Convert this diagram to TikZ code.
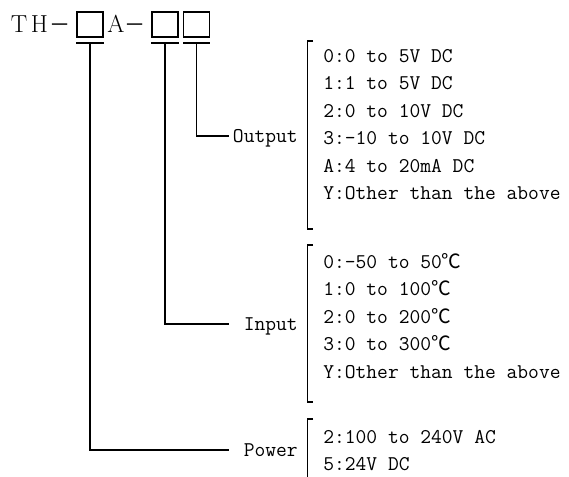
\documentclass[tikz,border=0pt]{standalone}
\usepackage{fontspec}
\newfontfamily\cjk{Noto Sans CJK SC}
\newcommand{\tempC}{{\cjk\fontsize{14}{14}\selectfont ℃}}
\newcommand{\fwdash}{{\cjk\fontsize{15}{15}\selectfont －}}

\begin{document}
\begin{tikzpicture}[
  %% Node styles
  slot/.style ={draw, line width=1pt, minimum width=0.65cm, minimum height=0.625cm, inner sep=0pt},
  bar/.style  ={fill=black, minimum width=0.68cm, minimum height=1.5pt, inner sep=0pt},
  code/.style ={font=\fontsize{17.5}{19}\selectfont, inner sep=0pt, text height=12pt, text depth=0pt},
  lbl/.style  ={font=\ttfamily\fontsize{14.9}{16}\selectfont, inner sep=0pt,
                text height=9pt, text depth=0pt, anchor=east},
  item/.style ={font=\ttfamily\fontsize{14.9}{16}\selectfont, inner sep=0pt,
                text height=9pt, text depth=0pt, anchor=west},
  %% Lines
  ln/.style  ={line width=1pt},
  brk/.style ={line width=1.4pt}
]
\useasboundingbox (0,0) rectangle (14.225,-11.925);

%% ── MODEL CODE ──────────────────────────────────────────────
\node[slot] (box1) at (2.25,   -0.6125) {};
\node[slot] (box2) at (4.125,  -0.6125) {};
\node[slot] (box3) at (4.9125, -0.6125) {};

\node[code, anchor=east] (th) at ([xshift=-4pt]box1.west) {T\kern2.5pt H\kern1pt\fwdash};
\node[code, anchor=west] (a)  at ([xshift=2.5pt]box1.east) {A\fwdash};

\node[bar] (bar1) at (2.25,   -1.075) {};
\node[bar] (bar2) at (4.125,  -1.075) {};
\node[bar] (bar3) at (4.9125, -1.075) {};

%% ── OUTPUT ──────────────────────────────────────────────────
\coordinate (outEnd) at (5.725, -3.4);
\draw[ln] (bar3.center) |- (outEnd);
\node[lbl] (outLbl) at (7.45, -3.4) {Output};
\draw[brk] (7.83,-1.025) -- (7.6875,-1.025) -- (7.6875,-5.725) -- (7.83,-5.725);
\foreach \t [count=\i from 0] in {0:0 to 5V DC, 1:1 to 5V DC, 2:0 to 10V DC,
    3:-10 to 10V DC, A:4 to 20mA DC, Y:Other than the above}
  \node[item] (out\i) at (8.075, {-1.4-0.6875*\i}) {\t};

%% ── INPUT ───────────────────────────────────────────────────
\coordinate (inEnd) at (5.725, -8.1);
\draw[ln] (bar2.center) |- (inEnd);
\node[lbl] (inLbl) at (7.45, -8.1) {Input};
\draw[brk] (7.83,-6.125) -- (7.6875,-6.125) -- (7.6875,-10.05) -- (7.83,-10.05);
\foreach \t [count=\i from 0] in {0:-50 to 50\tempC, 1:0 to 100\tempC, 2:0 to 200\tempC,
    3:0 to 300\tempC, Y:Other than the above}
  \node[item] (in\i) at (8.075, {-6.55-0.6875*\i}) {\t};

%% ── POWER ───────────────────────────────────────────────────
\coordinate (pwrEnd) at (5.725, -11.25);
\draw[ln] (bar1.center) |- (pwrEnd);
\node[lbl] (pwrLbl) at (7.45, -11.25) {Power};
\draw[brk] (7.83,-10.475) -- (7.6875,-10.475) -- (7.6875,-11.925);
\foreach \t [count=\i from 0] in {2:100 to 240V AC, 5:24V DC}
  \node[item] (pwr\i) at (8.075, {-10.925-0.6875*\i}) {\t};

\end{tikzpicture}
\end{document}
